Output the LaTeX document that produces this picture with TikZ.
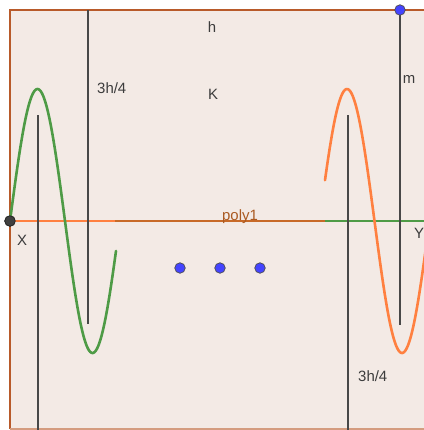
\documentclass[tikz,border=0pt]{standalone}
\usepackage{fontspec}
\setmainfont{Liberation Sans}
\definecolor{bgc}{RGB}{243,234,229}
\definecolor{framec}{RGB}{184,90,42}
\definecolor{polyc}{RGB}{200,106,40}
\definecolor{orangec}{RGB}{255,128,64}
\definecolor{greenc}{RGB}{78,155,70}
\definecolor{segc}{RGB}{72,72,72}
\definecolor{labc}{RGB}{60,60,60}
\definecolor{bluec}{RGB}{68,68,255}
\tikzset{
  framel/.style={draw=framec, line width=2.8bp},
  segl/.style={draw=segc, line width=2.4bp},
  curvel/.style={line width=2.6bp},
  lab/.style={text=labc, font=\fontsize{15}{15}\selectfont, inner sep=0pt},
  bluept/.style={circle, fill=bluec, draw=black!70, line width=0.7bp, minimum size=10.5bp, inner sep=0pt},
  darkpt/.style={circle, fill=black!75, draw=black!85, line width=0.7bp, minimum size=10.5bp, inner sep=0pt}
}
\begin{document}
\begin{tikzpicture}[x=1bp,y=-1bp]
\useasboundingbox (0,0) rectangle (424,430);
\clip (0,0) rectangle (424,430);
% background
\fill[white] (0,0) rectangle (424,430);
\fill[bgc] (10,10) rectangle (430,429);
% frame
\coordinate (TL) at (10,10);
\coordinate (TR) at (430,10);
\coordinate (BL) at (10,429);
\coordinate (BR) at (430,429);
\draw[framel] (TR) -- (TL) -- (BL);
\draw[draw=framec!60, line width=1.8bp] (BL) -- (BR);
% middle line poly1
\coordinate (M1) at (115,221);
\coordinate (M2) at (325,221);
\coordinate (Yend) at (430,221);
\node[darkpt] (X) at (10,221) {};
\draw[draw=orangec, line width=2.6bp] (X.center) -- (M1);
\draw[draw=polyc, line width=2.6bp] (M1) -- (M2);
\draw[draw=greenc, line width=2.6bp] (M2) -- (Yend);
% curves
\draw[greenc, curvel, line cap=round] plot[domain=10:116, samples=120, smooth] (\x, {221-132*sin((\x-10)/110*360)});
\draw[orangec, curvel, line cap=round] plot[domain=325:432, samples=120, smooth] (\x, {221-132*sin((\x-319.5)/110*360)});
% vertical segments
\coordinate (A1) at (88,10);   \coordinate (A2) at (88,324);
\coordinate (B1) at (38,115);  \coordinate (B2) at (38,430);
\coordinate (C1) at (348,115); \coordinate (C2) at (348,430);
\coordinate (D1) at (400,10);  \coordinate (D2) at (400,325);
\draw[segl] (A1) -- (A2);
\draw[segl] (B1) -- (B2);
\draw[segl] (C1) -- (C2);
\draw[segl] (D1) -- (D2);
\node[bluept] (P) at (D1) {};
\node[darkpt] (X2) at (X) {};
% dots
\node[bluept] (d1) at (180,268) {};
\node[bluept] (d2) at (220,268) {};
\node[bluept] (d3) at (260,268) {};
% labels
\node[lab] (h) at (212,27) {h};
\node[lab] (K) at (213,94) {K};
\node[lab, anchor=west] (l1) at (97,88) {3h/4};
\node[lab, anchor=west] (l2) at (358,376) {3h/4};
\node[lab] (m) at (409,79) {m};
\node[lab] (Xl) at (22,240) {X};
\node[lab, anchor=west] (Yl) at (414,233) {Y};
\node[lab, text=polyc!85!black, anchor=base] (poly) at (240,220) {poly1};
\end{tikzpicture}
\end{document}
